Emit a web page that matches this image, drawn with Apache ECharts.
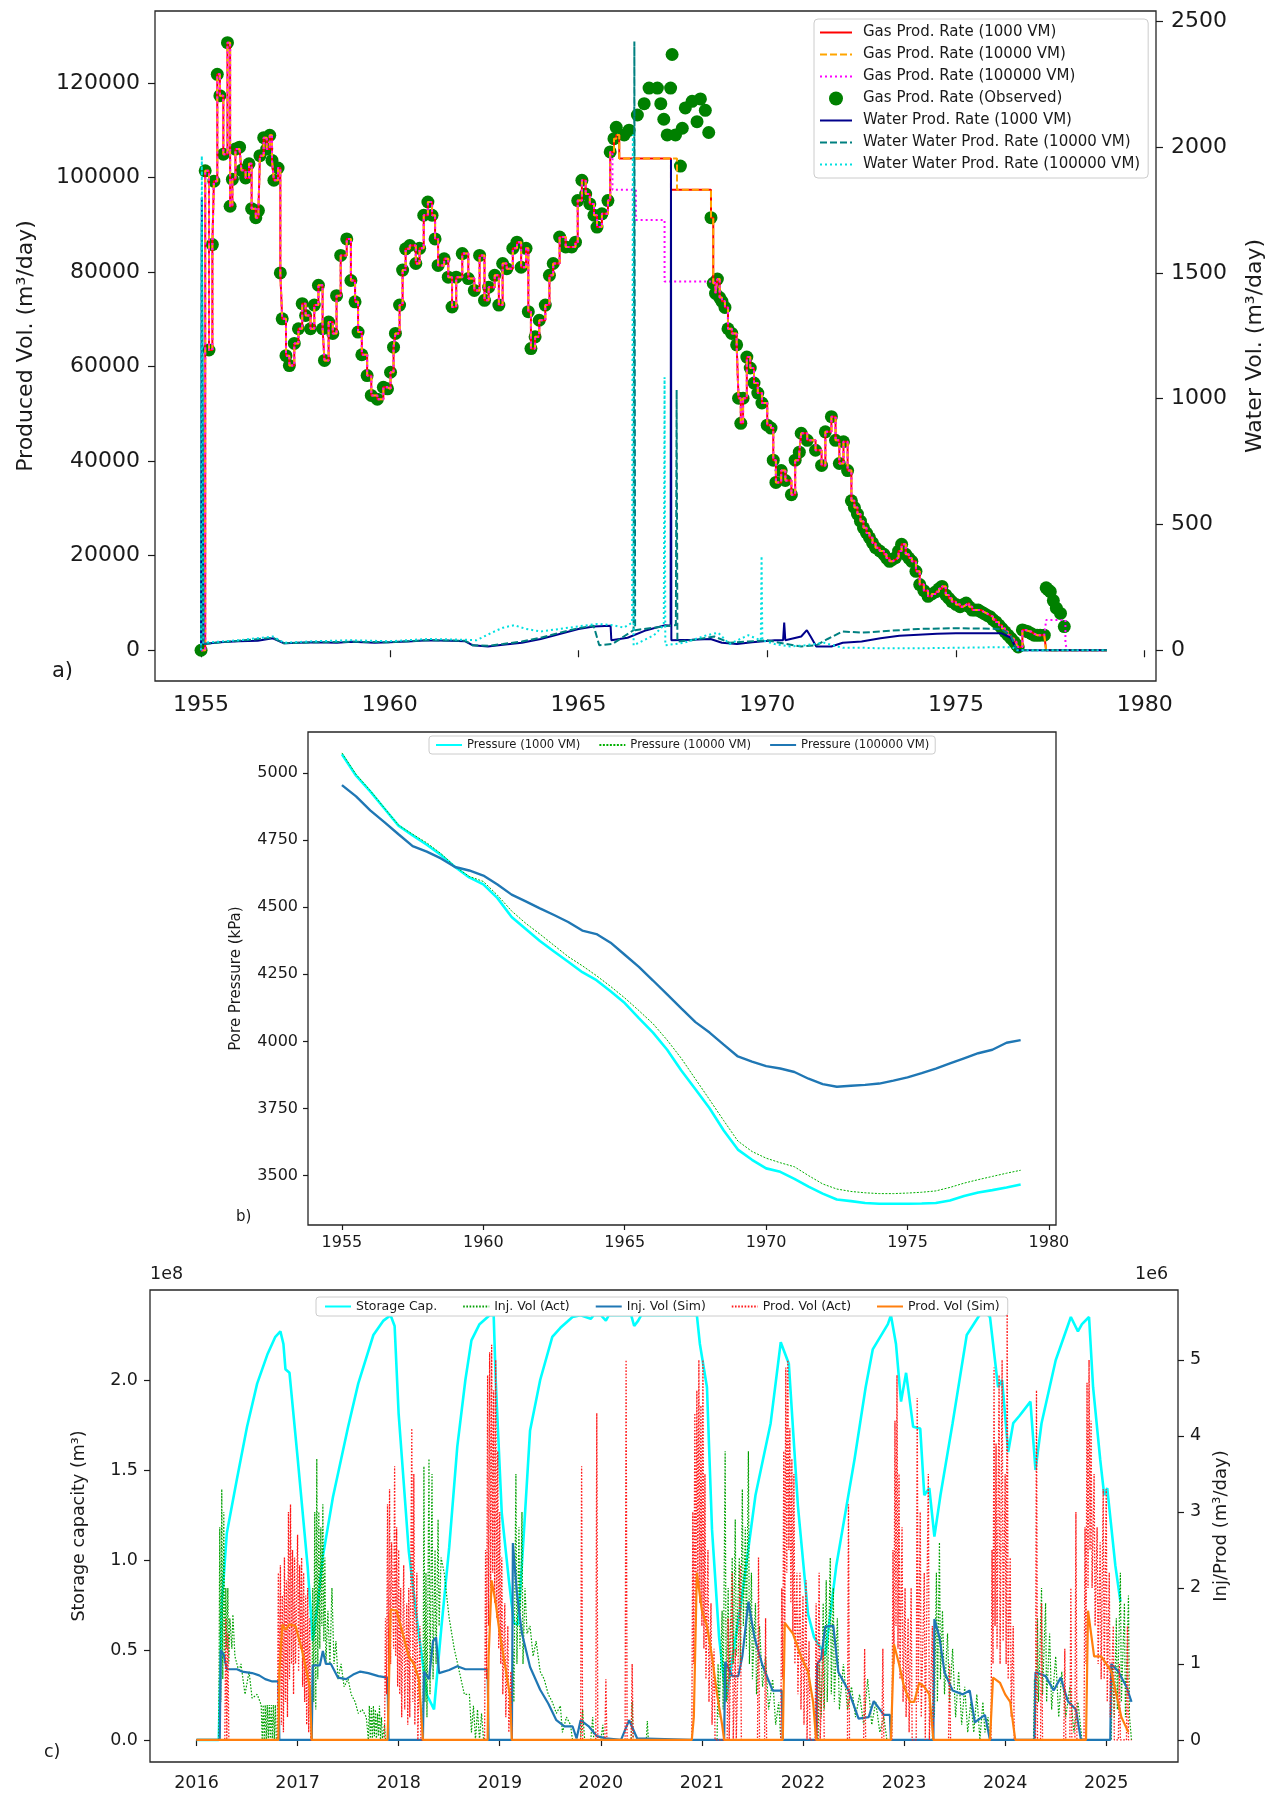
<!DOCTYPE html>
<html>
<head>
<meta charset="utf-8">
<script src="https://cdn.jsdelivr.net/npm/echarts/dist/echarts.min.js"></script>
<style>
html, body { margin: 0; padding: 0; background: #fff; }
#main { width: 1279px; height: 1803px; }
</style>
</head>
<body>
<div id="main"></div>
<script>
// ---------- panel a: gas / water production ----------
var gasObs = [
  [1955.00,0],[1955.11,101400],[1955.21,63500],[1955.30,85800],[1955.34,99200],[1955.43,121800],[1955.50,117300],
  [1955.59,104900],[1955.70,128500],[1955.77,93900],[1955.83,99600],[1955.91,106000],[1956.02,106400],[1956.07,101500],
  [1956.18,99900],[1956.27,102900],[1956.34,93400],[1956.45,91500],[1956.52,93000],[1956.56,104600],[1956.66,108400],
  [1956.74,106000],[1956.82,108900],[1956.88,103600],[1956.93,99400],[1957.04,102000],[1957.10,79800],[1957.15,70100],
  [1957.25,62300],[1957.34,60200],[1957.47,64900],[1957.58,68000],[1957.68,73300],[1957.77,70800],[1957.90,68000],
  [1958.00,73000],[1958.11,77200],[1958.22,68000],[1958.27,61300],[1958.38,69400],[1958.49,67000],[1958.59,75000],
  [1958.70,83500],[1958.86,87000],[1958.97,78200],[1959.08,73700],[1959.16,67300],[1959.26,62500],[1959.40,58100],
  [1959.51,53900],[1959.67,53100],[1959.83,55600],[1959.94,55300],[1960.02,58800],[1960.10,64100],[1960.15,67000],
  [1960.26,73000],[1960.34,80400],[1960.42,84900],[1960.53,85600],[1960.69,81800],[1960.79,85000],[1960.90,92000],
  [1961.01,94800],[1961.12,92000],[1961.20,87000],[1961.28,81400],[1961.44,82800],[1961.55,78900],[1961.65,72600],
  [1961.76,78900],[1961.92,83900],[1962.08,78600],[1962.24,76100],[1962.38,83500],[1962.51,74000],[1962.62,76800],
  [1962.78,79300],[1962.89,73000],[1962.99,81800],[1963.10,80700],[1963.26,85000],[1963.37,86300],[1963.48,81000],
  [1963.61,85000],[1963.67,71600],[1963.74,63800],[1963.85,66300],[1963.96,69800],[1964.12,73000],[1964.23,79300],
  [1964.33,81800],[1964.50,87400],[1964.66,85300],[1964.82,85300],[1964.92,86300],[1964.98,95100],[1965.09,99400],
  [1965.19,96500],[1965.30,94400],[1965.41,92000],[1965.49,89500],[1965.62,92300],[1965.78,95100],[1965.84,105400],
  [1965.94,108200],[1966.00,110600],[1966.21,109000],[1966.34,110000],[1966.56,113200],[1966.74,115600],[1966.87,118900],
  [1967.09,118900],[1967.18,115600],[1967.26,112300],[1967.35,109000],[1967.44,118900],[1967.48,126000],[1967.57,109000],
  [1967.70,102400],[1967.75,110400],[1967.83,114700],[1968.01,116100],[1968.14,111800],[1968.23,116600],[1968.36,114200],
  [1968.45,109500],[1968.51,91500],[1968.57,77600],[1968.63,75500],[1968.68,78500],[1968.74,74600],[1968.80,73800],
  [1968.88,72500],[1968.96,68000],[1969.06,67000],[1969.19,64600],[1969.24,53300],[1969.30,48000],[1969.36,53300],
  [1969.46,62000],[1969.55,59700],[1969.65,56500],[1969.75,54400],[1969.86,52300],[1970.00,47600],[1970.10,47000],
  [1970.16,40200],[1970.23,35500],[1970.37,38000],[1970.48,35900],[1970.64,32900],[1970.74,40200],[1970.85,41900],
  [1970.90,45900],[1971.06,44400],[1971.28,42300],[1971.44,39100],[1971.54,46200],[1971.70,49400],[1971.81,44400],
  [1971.91,39500],[1972.02,44100],[1972.13,38000],[1972.23,31600],[1972.31,30200],[1972.39,28800],[1972.47,27300],
  [1972.55,25900],[1972.63,24800],[1972.71,23800],[1972.79,22700],[1972.87,21700],[1972.98,21000],[1973.09,20300],
  [1973.16,19500],[1973.24,18800],[1973.32,19200],[1973.40,19600],[1973.48,21000],[1973.56,22400],[1973.67,20300],
  [1973.75,19500],[1973.83,18800],[1973.94,16700],[1974.04,13900],[1974.15,12600],[1974.26,11400],[1974.36,11900],
  [1974.47,12400],[1974.55,13000],[1974.63,13500],[1974.73,11700],[1974.81,11000],[1974.89,10300],[1975.00,9700],
  [1975.11,9200],[1975.19,9600],[1975.27,10000],[1975.35,9200],[1975.43,8500],[1975.51,8500],[1975.59,8500],
  [1975.67,8100],[1975.74,7800],[1975.82,7400],[1975.90,7100],[1975.98,6500],[1976.06,6000],[1976.14,5300],
  [1976.22,4600],[1976.30,3900],[1976.38,3200],[1976.46,2500],[1976.54,1800],[1976.60,1200],[1976.65,700],
  [1976.76,4300],[1976.84,4100],[1976.91,3900],[1977.00,3500],[1977.07,3200],[1977.15,3200],[1977.23,3200],
  [1977.34,3200],[1977.39,13200],[1977.44,12800],[1977.50,12400],[1977.58,10500],[1977.66,8900],[1977.77,7800],
  [1977.87,5000]
];

// simulated gas where it leaves the observed record
var gasSim1000Mid = [[1966.00,109000],[1966.08,104000],[1967.45,97400]];
var gasSim10000Mid = [[1966.00,109000],[1966.08,104000],[1967.61,97400]];
var gasSim100000Mid = [[1965.90,97400],[1966.52,91000],[1967.28,78000]];
var gasSim1000Tail = [[1977.39,0],[1979.00,0]];
var gasSim10000Tail = [[1977.39,0],[1979.00,0]];
var gasSim100000Tail = [[1977.39,6400],[1977.90,1400],[1977.95,0],[1979.00,0]];

var water1000 = [
  [1955.00,0],[1955.02,1800],[1955.06,25],[1955.50,32],[1956.00,36],[1956.50,38],[1956.90,48],[1957.20,28],
  [1957.60,30],[1958.00,32],[1958.60,30],[1959.00,34],[1959.60,30],[1960.00,32],[1960.60,36],[1961.00,40],
  [1961.60,38],[1962.00,36],[1962.20,20],[1962.60,15],[1963.00,22],[1963.50,30],[1964.00,45],[1964.50,65],
  [1965.00,85],[1965.40,95],[1965.85,98],[1965.87,40],[1966.30,50],[1966.80,80],[1967.30,100],[1967.44,98],
  [1967.45,1950],[1967.46,40],[1968.00,42],[1968.50,45],[1968.80,30],[1969.20,25],[1969.60,32],[1970.20,40],
  [1970.42,40],[1970.45,110],[1970.48,40],[1970.90,55],[1971.05,80],[1971.15,55],[1971.30,15],[1971.70,15],
  [1972.00,30],[1972.50,35],[1973.00,48],[1973.50,58],[1974.00,62],[1974.50,66],[1975.00,68],[1975.50,68],
  [1976.20,68],[1976.45,50],[1976.62,0],[1979.00,0]
];
var water10000 = [
  [1955.00,0],[1955.02,1700],[1955.06,25],[1956.00,38],[1956.90,50],[1957.20,28],[1958.00,32],[1959.00,34],
  [1960.00,32],[1961.00,40],[1962.00,38],[1962.20,20],[1962.60,18],[1963.00,25],[1963.50,35],[1964.00,50],
  [1964.50,70],[1965.00,88],[1965.40,98],[1965.55,20],[1965.90,25],[1966.20,55],[1966.46,80],[1966.48,2420],
  [1966.50,80],[1967.00,90],[1967.50,100],[1967.58,100],[1967.60,1035],[1967.62,35],[1968.00,40],[1968.60,55],
  [1969.00,30],[1969.50,35],[1970.00,40],[1970.50,25],[1970.90,15],[1971.30,20],[1971.60,45],[1972.00,75],
  [1972.50,70],[1973.00,75],[1973.50,80],[1974.00,85],[1975.00,88],[1976.20,85],[1976.45,60],[1976.62,0],
  [1979.00,0]
];
var water100000 = [
  [1955.00,0],[1955.02,1965],[1955.06,30],[1956.00,40],[1956.90,55],[1957.20,30],[1958.00,36],[1959.00,40],
  [1960.00,36],[1961.00,45],[1962.00,42],[1962.30,40],[1962.70,70],[1963.00,90],[1963.30,100],[1963.60,85],
  [1964.00,75],[1964.50,85],[1965.00,95],[1965.50,105],[1965.90,100],[1966.20,90],[1966.42,110],[1966.44,2050],
  [1966.46,20],[1967.00,60],[1967.26,100],[1967.28,1085],[1967.30,20],[1967.80,30],[1968.40,60],[1968.70,70],
  [1969.00,25],[1969.50,60],[1969.83,40],[1969.85,375],[1969.87,40],[1970.20,25],[1970.60,15],[1971.00,20],
  [1971.50,30],[1972.00,10],[1972.50,10],[1973.00,8],[1974.00,8],[1975.00,10],[1976.00,12],[1976.50,12],
  [1976.62,0],[1979.00,0]
];

// ---------- panel b: pore pressure ----------
var presYears = [1955.0,1955.5,1956.0,1956.5,1957.0,1957.5,1958.0,1958.5,1959.0,1959.5,1960.0,1960.5,1961.0,1961.5,
  1962.0,1962.5,1963.0,1963.5,1964.0,1964.5,1965.0,1965.5,1966.0,1966.5,1967.0,1967.5,1968.0,1968.5,1969.0,1969.5,
  1970.0,1970.5,1971.0,1971.5,1972.0,1972.5,1973.0,1973.5,1974.0,1974.5,1975.0,1975.5,1976.0,1976.5,1977.0,1977.5,
  1978.0,1978.5,1979.0];
var pres1000 = [5070,4990,4932,4868,4804,4768,4733,4695,4650,4611,4585,4534,4464,4419,4374,4335,4297,4258,4228,4187,
  4143,4087,4033,3969,3892,3822,3751,3668,3597,3559,3527,3514,3488,3459,3433,3411,3405,3398,3395,3395,3395,3396,
  3398,3407,3424,3437,3446,3456,3467];
var pres10000 = [5075,4995,4935,4870,4806,4772,4740,4700,4652,4615,4596,4545,4486,4440,4400,4358,4316,4282,4245,4205,
  4162,4115,4066,4005,3937,3860,3783,3705,3629,3590,3565,3548,3533,3500,3469,3450,3441,3436,3433,3433,3435,3438,
  3443,3456,3472,3485,3497,3509,3520];
var pres100000 = [4955,4913,4861,4817,4772,4728,4707,4682,4650,4637,4618,4585,4547,4522,4496,4471,4445,4413,4400,4368,
  4323,4278,4227,4175,4123,4072,4033,3988,3944,3925,3908,3899,3886,3861,3841,3831,3835,3838,3843,3854,3866,3882,
  3899,3918,3937,3956,3969,3995,4005];

// ---------- panel c: storage (1e8 m3) and inj/prod (1e6 m3/day) ----------
var storageCap = [
  [2016.00,0],[2016.22,0],[2016.25,0.75],[2016.30,1.15],[2016.40,1.45],[2016.50,1.74],[2016.60,1.98],[2016.70,2.14],
  [2016.78,2.24],[2016.83,2.27],[2016.86,2.20],[2016.88,2.06],[2016.92,2.04],[2017.00,1.57],[2017.10,0.96],[2017.15,0.55],
  [2017.20,0.76],[2017.25,1.02],[2017.35,1.35],[2017.50,1.74],[2017.60,1.98],[2017.75,2.25],[2017.85,2.33],[2017.92,2.36],
  [2017.96,2.30],[2018.00,1.81],[2018.10,1.05],[2018.18,0.67],[2018.28,0.25],[2018.35,0.17],[2018.42,0.61],[2018.50,1.07],
  [2018.58,1.63],[2018.66,2.00],[2018.72,2.22],[2018.80,2.31],[2018.90,2.36],[2018.94,2.36],[2018.96,2.00],[2019.02,1.26],
  [2019.09,0.89],[2019.14,0.65],[2019.18,0.64],[2019.22,0.98],[2019.30,1.72],[2019.40,2.00],[2019.52,2.24],[2019.60,2.29],
  [2019.72,2.35],[2019.80,2.36],[2019.90,2.34],[2019.93,2.36],[2020.00,2.36],[2020.05,2.33],[2020.08,2.36],[2020.30,2.36],
  [2020.33,2.30],[2020.37,2.33],[2020.40,2.36],[2020.95,2.36],[2020.98,2.20],[2021.05,1.96],[2021.10,1.17],[2021.17,0.57],
  [2021.24,0.22],[2021.30,0.45],[2021.39,0.77],[2021.53,1.36],[2021.68,1.76],[2021.78,2.21],[2021.82,2.15],[2021.86,2.09],
  [2021.95,1.30],[2022.05,0.70],[2022.11,0.57],[2022.22,0.47],[2022.33,0.97],[2022.51,1.56],[2022.62,1.96],[2022.69,2.17],
  [2022.84,2.31],[2022.87,2.36],[2022.92,2.20],[2022.97,1.88],[2023.02,2.04],[2023.09,1.74],[2023.16,1.73],[2023.20,1.36],
  [2023.25,1.40],[2023.30,1.13],[2023.36,1.36],[2023.48,1.76],[2023.62,2.25],[2023.78,2.39],[2023.85,2.35],[2023.93,1.96],
  [2023.97,2.00],[2024.03,1.60],[2024.08,1.76],[2024.14,1.80],[2024.25,1.88],[2024.30,1.50],[2024.36,1.76],[2024.50,2.11],
  [2024.65,2.35],[2024.72,2.27],[2024.76,2.31],[2024.83,2.35],[2024.87,1.96],[2024.94,1.56],[2024.98,1.36],[2025.01,1.40],
  [2025.09,0.97],[2025.14,0.77]
];
var injAct = [
  [2016.00,0],[2016.22,0],[2016.23,2.8],[2016.24,0.5],[2016.25,3.3],[2016.26,0.8],[2016.27,3.0],[2016.28,1.0],[2016.29,2.0],
  [2016.30,1.2],[2016.31,2.0],[2016.32,1.0],[2016.33,1.6],[2016.35,1.2],[2016.36,1.65],[2016.38,1.1],[2016.42,0.9],
  [2016.44,1.0],[2016.48,0.6],[2016.52,0.9],[2016.55,0.55],[2016.60,0.6],[2016.64,0.46],[2016.65,0],[2016.66,0.46],
  [2016.67,0],[2016.68,0.46],[2016.69,0],[2016.70,0.46],[2016.71,0],[2016.72,0.46],[2016.73,0],[2016.74,0.46],[2016.75,0],
  [2016.76,0.46],[2016.77,0],[2016.78,0.46],[2016.79,0],[2017.14,0],[2017.15,2.0],[2017.16,0.5],[2017.17,3.0],[2017.18,0.4],
  [2017.19,3.7],[2017.20,0.8],[2017.21,3.0],[2017.22,1.2],[2017.23,2.8],[2017.24,1.5],[2017.25,3.1],[2017.26,1.3],
  [2017.27,2.4],[2017.28,1.0],[2017.30,1.7],[2017.32,1.0],[2017.34,2.0],[2017.36,1.0],[2017.38,1.3],[2017.40,0.8],
  [2017.43,1.0],[2017.46,0.7],[2017.50,0.8],[2017.53,0.6],[2017.57,0.5],[2017.60,0.35],[2017.64,0.4],[2017.68,0.3],
  [2017.70,0],[2017.71,0.45],[2017.72,0],[2017.73,0.42],[2017.74,0],[2017.75,0.45],[2017.76,0.05],[2017.77,0.40],
  [2017.78,0],[2017.79,0.35],[2017.80,0.05],[2017.81,0.45],[2017.82,0],[2017.83,0.3],[2017.84,0],[2017.86,0.2],[2017.87,0],
  [2018.24,0],[2018.25,3.6],[2018.26,0.5],[2018.27,2.2],[2018.28,0.3],[2018.30,3.7],[2018.31,0.6],[2018.33,3.5],
  [2018.34,0.8],[2018.36,2.5],[2018.37,1.0],[2018.39,2.9],[2018.40,1.5],[2018.42,2.4],[2018.45,2.2],[2018.50,1.6],
  [2018.55,1.2],[2018.60,0.9],[2018.65,0.6],[2018.70,0.6],[2018.72,0.1],[2018.74,0.45],[2018.76,0],[2018.78,0.4],
  [2018.80,0],[2018.82,0.35],[2018.84,0],[2019.12,0],[2019.13,1.2],[2019.14,0.5],[2019.16,3.5],[2019.17,1.0],[2019.19,2.8],
  [2019.20,1.2],[2019.22,3.0],[2019.23,1.0],[2019.25,2.0],[2019.27,1.4],[2019.30,1.5],[2019.33,1.1],[2019.36,1.3],
  [2019.40,0.9],[2019.44,0.8],[2019.48,0.6],[2019.52,0.5],[2019.56,0.35],[2019.60,0.45],[2019.62,0.1],[2019.66,0.3],
  [2019.70,0.2],[2019.72,0],[2019.80,0],[2019.82,0.4],[2019.84,0],[2019.90,0],[2019.92,0.3],[2019.93,0],[2020.00,0],
  [2020.02,0.2],[2020.03,0],[2020.30,0],[2020.31,0.5],[2020.32,0],[2020.45,0],[2020.46,0.25],[2020.47,0],[2021.15,0],
  [2021.16,1.0],[2021.17,0.3],[2021.20,1.7],[2021.21,0.4],[2021.23,3.8],[2021.24,0.5],[2021.26,2.0],[2021.27,0.8],
  [2021.30,2.4],[2021.31,1.0],[2021.33,2.9],[2021.34,1.1],[2021.37,2.4],[2021.38,1.0],[2021.40,3.3],[2021.41,1.5],
  [2021.43,2.8],[2021.44,1.2],[2021.46,3.8],[2021.47,1.0],[2021.49,2.2],[2021.50,0.8],[2021.53,1.8],[2021.54,0.6],
  [2021.57,1.5],[2021.60,0.7],[2021.63,1.1],[2021.66,0.4],[2021.70,0.8],[2021.73,0.2],[2021.76,0.5],[2021.78,0],
  [2022.15,0],[2022.16,1.0],[2022.18,0.3],[2022.20,1.8],[2022.21,0.4],[2022.23,2.1],[2022.24,0.5],[2022.27,2.4],
  [2022.28,0.6],[2022.30,2.0],[2022.31,0.5],[2022.34,1.6],[2022.36,0.4],[2022.40,1.0],[2022.44,0.4],[2022.48,0.7],
  [2022.52,0.3],[2022.56,0.6],[2022.60,0.2],[2022.64,0.8],[2022.68,0.2],[2022.72,0.5],[2022.76,0.1],[2022.80,0.3],
  [2022.83,0],[2023.28,0],[2023.29,1.0],[2023.30,0.3],[2023.32,2.2],[2023.33,0.5],[2023.35,2.6],[2023.36,0.8],
  [2023.38,1.7],[2023.40,0.6],[2023.43,1.4],[2023.45,0.5],[2023.48,1.2],[2023.51,0.3],[2023.54,0.9],[2023.57,0.2],
  [2023.60,0.7],[2023.63,0.1],[2023.66,0.5],[2023.69,0.1],[2023.72,0.6],[2023.75,0],[2023.78,0.5],[2023.80,0.1],
  [2023.83,0.3],[2023.85,0],[2024.28,0],[2024.29,0.8],[2024.30,0.2],[2024.32,1.6],[2024.33,0.5],[2024.36,2.0],
  [2024.37,0.6],[2024.40,1.8],[2024.41,0.5],[2024.44,1.4],[2024.46,0.4],[2024.50,1.1],[2024.53,0.3],[2024.56,0.9],
  [2024.60,0.3],[2024.64,0.7],[2024.68,0.1],[2024.72,0.5],[2024.76,0],[2025.05,0],[2025.06,1.0],[2025.08,0.3],
  [2025.10,1.6],[2025.11,0.4],[2025.14,2.2],[2025.15,0.5],[2025.18,1.8],[2025.19,0.3],[2025.22,1.9],[2025.23,0.3],
  [2025.25,0]
];
var injSim = [
  [2016.00,0],[2016.23,0],[2016.24,1.18],[2016.27,1.12],[2016.30,0.93],[2016.40,0.93],[2016.45,0.90],[2016.55,0.88],
  [2016.62,0.85],[2016.68,0.80],[2016.75,0.77],[2016.81,0.77],[2016.82,0],[2017.14,0],[2017.15,0.98],[2017.22,0.98],
  [2017.25,1.17],[2017.28,1.00],[2017.33,1.00],[2017.40,0.82],[2017.48,0.80],[2017.55,0.86],[2017.62,0.90],[2017.70,0.88],
  [2017.80,0.84],[2017.89,0.82],[2017.90,0],[2018.24,0],[2018.25,0.90],[2018.30,0.80],[2018.34,1.30],[2018.37,1.35],
  [2018.40,0.88],[2018.50,0.92],[2018.58,0.97],[2018.66,0.93],[2018.75,0.93],[2018.88,0.93],[2018.89,0],[2019.12,0],
  [2019.13,2.59],[2019.17,1.93],[2019.22,1.40],[2019.30,0.96],[2019.40,0.66],[2019.48,0.48],[2019.56,0.26],[2019.64,0.18],
  [2019.72,0.18],[2019.76,0.02],[2019.80,0.26],[2019.88,0.18],[2019.96,0.05],[2020.05,0.02],[2020.20,0],[2020.28,0.26],
  [2020.36,0.02],[2020.90,0],[2021.22,0],[2021.23,1.03],[2021.30,0.84],[2021.36,0.84],[2021.40,1.10],[2021.46,1.82],
  [2021.52,1.35],[2021.60,0.98],[2021.70,0.65],[2021.79,0.65],[2021.80,0],[2022.13,0],[2022.14,1.00],[2022.18,1.07],
  [2022.22,1.49],[2022.30,1.50],[2022.35,0.89],[2022.45,0.65],[2022.55,0.28],[2022.65,0.30],[2022.70,0.51],[2022.80,0.33],
  [2022.86,0.33],[2022.87,0],[2023.29,0],[2023.30,1.59],[2023.35,1.35],[2023.40,0.89],[2023.48,0.65],[2023.58,0.60],
  [2023.65,0.65],[2023.70,0.23],[2023.80,0.33],[2023.85,0],[2024.29,0],[2024.30,0.89],[2024.40,0.84],[2024.48,0.65],
  [2024.55,0.82],[2024.62,0.51],[2024.70,0.40],[2024.75,0],[2025.04,0],[2025.05,1.00],[2025.12,0.90],[2025.20,0.70],
  [2025.25,0.50]
];
var prodAct = [
  [2016.00,0],[2016.28,0],[2016.29,1.6],[2016.30,0],[2016.31,1.4],[2016.32,0],[2016.80,0],[2016.81,2.2],[2016.82,0.3],
  [2016.83,2.3],[2016.84,0.2],[2016.85,1.9],[2016.86,0.1],[2016.87,2.4],[2016.88,0.5],[2016.89,2.1],[2016.90,0.3],
  [2016.91,3.0],[2016.92,0.8],[2016.93,3.1],[2016.94,1.0],[2016.95,2.5],[2016.96,0.6],[2016.97,2.4],[2016.98,1.0],
  [2017.00,2.7],[2017.01,0.9],[2017.02,2.3],[2017.03,1.2],[2017.04,2.4],[2017.05,0.7],[2017.06,2.2],[2017.07,0.5],
  [2017.08,1.9],[2017.09,0.2],[2017.10,2.0],[2017.11,0.1],[2017.12,1.6],[2017.13,0],[2017.86,0],[2017.87,1.6],
  [2017.88,0.6],[2017.89,3.1],[2017.90,0.8],[2017.91,3.3],[2017.92,1.0],[2017.93,2.6],[2017.95,1.2],[2017.96,3.6],
  [2017.97,1.1],[2017.98,2.8],[2017.99,0.7],[2018.00,2.5],[2018.01,0.6],[2018.02,2.0],[2018.03,0.3],[2018.05,2.3],
  [2018.06,0.4],[2018.08,1.8],[2018.09,0.2],[2018.10,2.0],[2018.11,0.3],[2018.13,4.1],[2018.14,0.5],[2018.15,3.5],
  [2018.16,0.2],[2018.18,2.2],[2018.19,0],[2018.21,1.5],[2018.22,0],[2018.85,0],[2018.86,2.5],[2018.87,0.8],
  [2018.88,4.8],[2018.89,1.5],[2018.90,5.1],[2018.91,2.0],[2018.92,5.2],[2018.93,2.2],[2018.94,4.6],[2018.95,1.8],
  [2018.96,5.0],[2018.97,1.6],[2018.98,3.8],[2018.99,1.2],[2019.00,3.0],[2019.01,1.0],[2019.02,2.4],[2019.03,0.6],
  [2019.05,1.8],[2019.06,0.3],[2019.08,1.5],[2019.09,0.1],[2019.11,0.9],[2019.12,0],[2019.80,0],[2019.81,3.6],
  [2019.82,0],[2019.95,0],[2019.96,4.3],[2019.97,0],[2020.04,0],[2020.05,0.8],[2020.06,0],[2020.24,0],[2020.25,5.0],
  [2020.26,0],[2020.30,0],[2020.31,1.0],[2020.32,0],[2020.90,0],[2020.91,3.0],[2020.92,1.0],[2020.93,4.3],[2020.94,1.5],
  [2020.95,4.6],[2020.96,2.0],[2020.97,5.0],[2020.98,1.8],[2020.99,4.4],[2021.00,1.5],[2021.01,5.0],[2021.02,1.2],
  [2021.03,3.5],[2021.04,0.8],[2021.06,2.5],[2021.07,0.5],[2021.09,1.8],[2021.10,0.2],[2021.12,1.2],[2021.13,0],
  [2021.25,0],[2021.26,1.6],[2021.27,0],[2021.30,2.2],[2021.31,0],[2021.33,1.2],[2021.34,0],[2021.38,2.3],[2021.39,0],
  [2021.55,0],[2021.56,2.4],[2021.57,0],[2021.62,0],[2021.63,1.6],[2021.64,0],[2021.78,0],[2021.79,2.0],[2021.80,0.8],
  [2021.81,3.8],[2021.82,1.5],[2021.83,4.9],[2021.84,2.2],[2021.85,5.0],[2021.86,2.5],[2021.87,4.1],[2021.88,1.8],
  [2021.89,3.7],[2021.90,1.4],[2021.91,3.5],[2021.92,1.0],[2021.94,2.2],[2021.95,0.6],[2021.97,2.2],[2021.98,0.4],
  [2022.00,1.9],[2022.01,0.2],[2022.03,2.1],[2022.04,0],[2022.06,1.3],[2022.07,0],[2022.12,0],[2022.13,1.8],[2022.14,0],
  [2022.16,2.2],[2022.17,0],[2022.20,1.2],[2022.21,0],[2022.44,0],[2022.45,3.1],[2022.46,0],[2022.60,0],[2022.61,1.2],
  [2022.62,0],[2022.78,0],[2022.79,1.2],[2022.80,0],[2022.88,0],[2022.89,2.5],[2022.90,1.0],[2022.91,4.2],[2022.92,1.5],
  [2022.93,4.8],[2022.94,1.2],[2022.95,3.5],[2022.96,0.8],[2022.98,2.8],[2022.99,0.5],[2023.01,2.0],[2023.02,0.3],
  [2023.04,1.6],[2023.05,0.1],[2023.07,2.0],[2023.08,0],[2023.12,0],[2023.13,4.5],[2023.14,0.5],[2023.16,3.0],
  [2023.17,0.3],[2023.20,2.2],[2023.21,0],[2023.24,3.5],[2023.25,0],[2023.28,1.5],[2023.29,0],[2023.44,0],[2023.45,1.0],
  [2023.46,0],[2023.86,0],[2023.87,2.5],[2023.88,1.0],[2023.89,4.9],[2023.90,1.5],[2023.91,3.9],[2023.92,1.2],
  [2023.94,4.8],[2023.95,1.0],[2023.97,5.0],[2023.98,1.3],[2024.00,3.5],[2024.01,1.0],[2024.02,5.6],[2024.03,0.8],
  [2024.05,2.4],[2024.06,0.3],[2024.08,1.5],[2024.09,0],[2024.30,0],[2024.31,4.6],[2024.32,0],[2024.35,0],[2024.36,1.8],
  [2024.37,0],[2024.58,0],[2024.59,1.2],[2024.60,0],[2024.64,0],[2024.65,2.0],[2024.66,0],[2024.69,0],[2024.70,3.0],
  [2024.71,0],[2024.78,0],[2024.79,2.8],[2024.80,1.0],[2024.81,4.7],[2024.82,2.0],[2024.83,5.0],[2024.84,2.5],
  [2024.85,4.2],[2024.86,2.0],[2024.88,3.5],[2024.89,1.5],[2024.91,2.8],[2024.92,1.0],[2024.94,2.6],[2024.95,0.8],
  [2024.97,3.3],[2024.98,0.8],[2025.00,3.3],[2025.01,0.5],[2025.03,2.2],[2025.04,0.3],[2025.07,1.5],[2025.08,0],
  [2025.12,0],[2025.13,1.0],[2025.14,0],[2025.20,0],[2025.21,1.5],[2025.22,0],[2025.25,0]
];
var prodSim = [
  [2016.00,0],[2016.81,0],[2016.82,0.90],[2016.85,1.52],[2016.88,1.45],[2016.92,1.52],[2016.98,1.50],[2017.04,1.20],
  [2017.09,0.90],[2017.12,0.70],[2017.14,0],[2017.89,0],[2017.90,0.50],[2017.92,1.72],[2017.98,1.70],[2018.04,1.40],
  [2018.10,1.10],[2018.15,1.00],[2018.20,0.80],[2018.24,0],[2018.88,0],[2018.89,1.10],[2018.92,2.10],[2018.96,1.80],
  [2019.00,1.40],[2019.05,1.00],[2019.10,0.60],[2019.12,0],[2020.90,0],[2020.92,0.30],[2020.95,2.20],[2021.00,1.70],
  [2021.05,1.50],[2021.10,1.10],[2021.15,0.60],[2021.20,0.20],[2021.22,0],[2021.80,0],[2021.82,1.54],[2021.90,1.40],
  [2021.98,1.10],[2022.05,0.90],[2022.10,0.50],[2022.13,0],[2022.87,0],[2022.90,1.26],[2022.95,1.00],[2023.00,0.70],
  [2023.06,0.50],[2023.10,0.50],[2023.15,0.75],[2023.20,0.70],[2023.25,0.60],[2023.29,0],[2023.85,0],[2023.88,0.82],
  [2023.95,0.75],[2024.00,0.60],[2024.05,0.50],[2024.10,0],[2024.80,0],[2024.82,1.70],[2024.88,1.10],[2024.95,1.10],
  [2025.00,1.00],[2025.05,0.90],[2025.15,0.30],[2025.22,0.10]
];

var ticksA = [1955, 1960, 1965, 1970, 1975, 1980];
var ticksGas = [0, 20000, 40000, 60000, 80000, 100000, 120000];
var ticksWater = [0, 500, 1000, 1500, 2000, 2500];
var ticksPres = [3500, 3750, 4000, 4250, 4500, 4750, 5000];
var ticksC = [2016, 2017, 2018, 2019, 2020, 2021, 2022, 2023, 2024, 2025];
var ticksCap = [0, 0.5, 1.0, 1.5, 2.0];
var ticksRate = [0, 1, 2, 3, 4, 5];

var FONT = 'DejaVu Sans';
var INK = '#1a1a1a';

// sim gas = observed record with the simulated divergences spliced in
function splice(before, mid, after, tail) {
  var out = [];
  gasObs.forEach(function (p) { if (p[0] <= before) out.push(p); });
  out = out.concat(mid);
  gasObs.forEach(function (p) { if (p[0] >= after && p[0] <= 1977.34) out.push(p); });
  return out.concat(tail);
}

function plain(v) { return String(v); }

function xAx(grid, min, max, ticks, fs, margin, len) {
  return {
    type: 'value', gridIndex: grid, min: min, max: max,
    axisLine: { show: false }, splitLine: { show: false },
    axisTick: { show: true, customValues: ticks, length: len, lineStyle: { color: INK, width: 1.2 } },
    axisLabel: { customValues: ticks, fontSize: fs, color: INK, fontFamily: FONT, margin: margin, formatter: plain }
  };
}
function yAx(grid, pos, min, max, ticks, fs, margin, len, name, nameFs, gap, fmt) {
  return {
    type: 'value', gridIndex: grid, position: pos, min: min, max: max,
    axisLine: { show: false }, splitLine: { show: false },
    axisTick: { show: true, customValues: ticks, length: len, lineStyle: { color: INK, width: 1.2 } },
    axisLabel: { customValues: ticks, fontSize: fs, color: INK, fontFamily: FONT, margin: margin, formatter: fmt || plain },
    name: name, nameLocation: 'middle', nameRotate: 90, nameGap: gap,
    nameTextStyle: { fontSize: nameFs, color: INK, fontFamily: FONT }
  };
}
function line(name, xi, yi, data, color, width, dash, z) {
  return {
    name: name, type: 'line', xAxisIndex: xi, yAxisIndex: yi, data: data,
    symbol: 'none', z: z, animation: false,
    lineStyle: { color: color, width: width, type: dash },
    itemStyle: { color: color }
  };
}
// legend entry for a line: no marker in the middle of the sample
function lineKey(name) { return { name: name, itemStyle: { opacity: 0 } }; }

var gridBox = { show: true, borderColor: '#262626', borderWidth: 1.3, backgroundColor: 'transparent' };

var chart = echarts.init(document.getElementById('main'));
chart.setOption({
  animation: false,
  backgroundColor: '#fff',
  grid: [
    Object.assign({ left: 155, top: 11, width: 1001, height: 670 }, gridBox),
    Object.assign({ left: 308, top: 732, width: 748, height: 493 }, gridBox),
    Object.assign({ left: 150, top: 1290, width: 1028, height: 472 }, gridBox)
  ],
  xAxis: [
    xAx(0, 1953.78, 1980.3, ticksA, 22, 13, 7),
    xAx(1, 1953.8, 1980.25, ticksA, 16, 10, 5),
    xAx(2, 2015.54, 2025.71, ticksC, 17.5, 12, 6)
  ],
  yAxis: [
    yAx(0, 'left', -6500, 135200, ticksGas, 22, 15, 7, 'Produced Vol. (m³/day)', 22, 118),
    yAx(0, 'right', -122, 2541, ticksWater, 22, 15, 7, 'Water Vol. (m³/day)', 22, 88),
    yAx(1, 'left', 3316, 5153, ticksPres, 16, 10, 5, 'Pore Pressure (kPa)', 15, 64),
    yAx(2, 'left', -0.122, 2.5, ticksCap, 17.5, 12, 6, 'Storage capacity (m³)', 17.5, 62,
      function (v) { return v.toFixed(1); }),
    yAx(2, 'right', -0.29, 5.92, ticksRate, 17.5, 12, 6, 'Inj/Prod (m³/day)', 18, 34)
  ],
  legend: [
    {
      left: 814, top: 19, orient: 'vertical', itemWidth: 32, itemHeight: 14, itemGap: 7,
      padding: [6, 8, 6, 5], backgroundColor: '#fff', borderColor: '#cccccc', borderWidth: 1, borderRadius: 4,
      selectedMode: false,
      textStyle: { fontSize: 15, color: INK, fontFamily: FONT, padding: [0, 0, 0, 6] },
      data: [lineKey('Gas Prod. Rate (1000 VM)'), lineKey('Gas Prod. Rate (10000 VM)'), lineKey('Gas Prod. Rate (100000 VM)'),
        { name: 'Gas Prod. Rate (Observed)', icon: 'circle' },
        lineKey('Water Prod. Rate (1000 VM)'), lineKey('Water Water Prod. Rate (10000 VM)'),
        lineKey('Water Water Prod. Rate (100000 VM)')]
    },
    {
      left: 429, top: 736, orient: 'horizontal', itemWidth: 26, itemHeight: 8, itemGap: 18,
      padding: [3, 6], backgroundColor: '#fff', borderColor: '#cccccc', borderWidth: 1, borderRadius: 3,
      selectedMode: false,
      textStyle: { fontSize: 11.6, color: INK, fontFamily: FONT },
      data: [lineKey('Pressure (1000 VM)'), lineKey('Pressure (10000 VM)'), lineKey('Pressure (100000 VM)')]
    },
    {
      left: 316, top: 1297, orient: 'horizontal', itemWidth: 26, itemHeight: 8, itemGap: 25,
      padding: [3, 8], backgroundColor: '#fff', borderColor: '#cccccc', borderWidth: 1, borderRadius: 3,
      selectedMode: false,
      textStyle: { fontSize: 12.5, color: INK, fontFamily: FONT },
      data: [lineKey('Storage Cap.'), lineKey('Inj. Vol (Act)'), lineKey('Inj. Vol (Sim)'),
        lineKey('Prod. Vol (Act)'), lineKey('Prod. Vol (Sim)')]
    }
  ],
  graphic: [
    { type: 'text', left: 52, top: 661, style: { text: 'a)', fontSize: 21, fill: INK, fontFamily: FONT } },
    { type: 'text', left: 236, top: 1210, style: { text: 'b)', fontSize: 15, fill: INK, fontFamily: FONT } },
    { type: 'text', left: 44, top: 1743, style: { text: 'c)', fontSize: 17.5, fill: INK, fontFamily: FONT } },
    { type: 'text', left: 150, top: 1265, style: { text: '1e8', fontSize: 17.5, fill: INK, fontFamily: FONT } },
    { type: 'text', left: 1135, top: 1265, style: { text: '1e6', fontSize: 17.5, fill: INK, fontFamily: FONT } }
  ],
  series: [
    {
      name: 'Gas Prod. Rate (Observed)', type: 'scatter', xAxisIndex: 0, yAxisIndex: 0, data: gasObs,
      symbol: 'circle', symbolSize: 13, itemStyle: { color: '#008000', opacity: 1 }, z: 2, animation: false
    },
    Object.assign(line('Gas Prod. Rate (1000 VM)', 0, 0, splice(1965.94, gasSim1000Mid, 1968.51, gasSim1000Tail),
      '#ff0000', 2, 'solid', 3), { step: 'end' }),
    Object.assign(line('Gas Prod. Rate (10000 VM)', 0, 0, splice(1965.94, gasSim10000Mid, 1968.51, gasSim10000Tail),
      '#ffa500', 2, [7, 3], 4), { step: 'end' }),
    Object.assign(line('Gas Prod. Rate (100000 VM)', 0, 0, splice(1965.84, gasSim100000Mid, 1968.57, gasSim100000Tail),
      '#ff00ff', 2, [2, 3], 5), { step: 'end' }),
    line('Water Prod. Rate (1000 VM)', 0, 1, water1000, '#00008b', 2, 'solid', 6),
    line('Water Water Prod. Rate (10000 VM)', 0, 1, water10000, '#008080', 2, [7, 3], 7),
    line('Water Water Prod. Rate (100000 VM)', 0, 1, water100000, '#00e0e0', 2, [2, 3], 8),

    line('Pressure (1000 VM)', 1, 2, presYears.map(function (y, i) { return [y, pres1000[i]]; }), '#00ffff', 2.6, 'solid', 3),
    line('Pressure (10000 VM)', 1, 2, presYears.map(function (y, i) { return [y, pres10000[i]]; }), '#00b000', 1, [2, 1.5], 4),
    line('Pressure (100000 VM)', 1, 2, presYears.map(function (y, i) { return [y, pres100000[i]]; }), '#1f77b4', 2.4, 'solid', 5),

    line('Storage Cap.', 2, 3, storageCap, '#00ffff', 2.6, 'solid', 3),
    line('Inj. Vol (Act)', 2, 4, injAct, '#00a000', 1.2, [1.6, 1.6], 4),
    line('Inj. Vol (Sim)', 2, 4, injSim, '#1f77b4', 2.2, 'solid', 5),
    line('Prod. Vol (Act)', 2, 4, prodAct, '#ff1a1a', 1.3, [1.6, 1.6], 6),
    line('Prod. Vol (Sim)', 2, 4, prodSim, '#ff7f0e', 2.2, 'solid', 7)
  ]
});
</script>
</body>
</html>
